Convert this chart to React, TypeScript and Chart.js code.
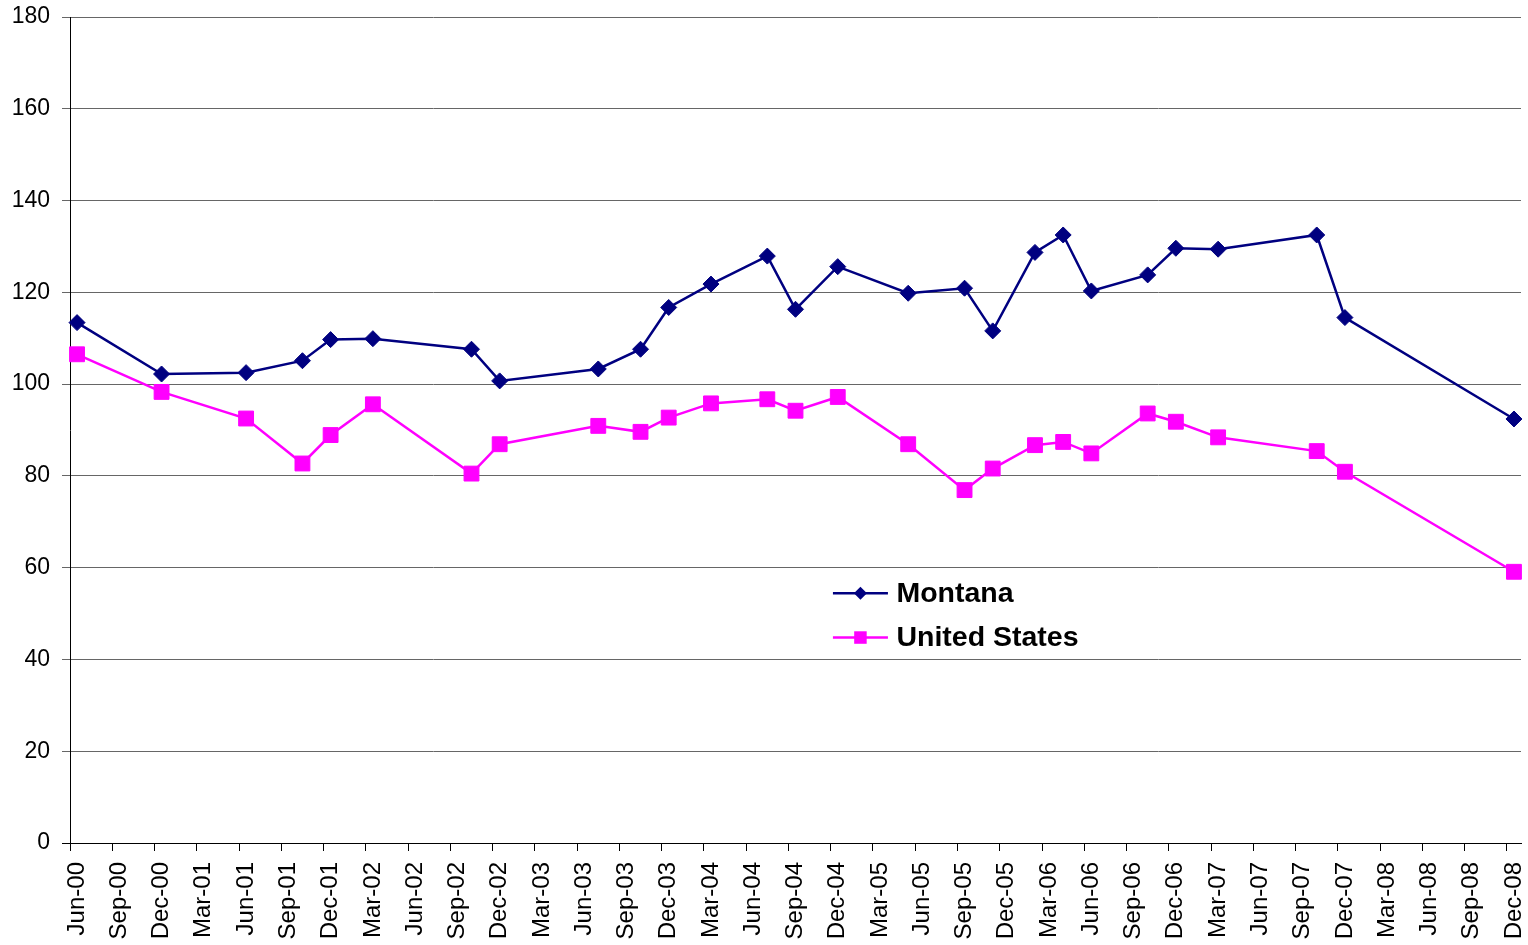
import { useEffect, useRef } from 'react';
import { Chart, registerables } from 'chart.js';

Chart.register(...registerables);

// ---- Data ----
const MONTH_NAMES = ['Jan', 'Feb', 'Mar', 'Apr', 'May', 'Jun', 'Jul', 'Aug', 'Sep', 'Oct', 'Nov', 'Dec'];
const AXIS_START_YEAR = 2000;
const AXIS_START_MONTH = 5; // Jun
const AXIS_MONTH_COUNT = 103; // Jun-00 .. Dec-08

const tickLabels = [
  'Jun-00', 'Sep-00', 'Dec-00', 'Mar-01', 'Jun-01', 'Sep-01', 'Dec-01', 'Mar-02', 'Jun-02',
  'Sep-02', 'Dec-02', 'Mar-03', 'Jun-03', 'Sep-03', 'Dec-03', 'Mar-04', 'Jun-04', 'Sep-04',
  'Dec-04', 'Mar-05', 'Jun-05', 'Sep-05', 'Dec-05', 'Mar-06', 'Jun-06', 'Sep-06', 'Dec-06',
  'Mar-07', 'Jun-07', 'Sep-07', 'Dec-07', 'Mar-08', 'Jun-08', 'Sep-08', 'Dec-08',
];

const surveyDates = [
  'Jun-00', 'Dec-00', 'Jun-01', 'Oct-01', 'Dec-01', 'Mar-02', 'Oct-02', 'Dec-02', 'Jul-03',
  'Oct-03', 'Dec-03', 'Mar-04', 'Jul-04', 'Sep-04', 'Dec-04', 'May-05', 'Sep-05', 'Nov-05',
  'Feb-06', 'Apr-06', 'Jun-06', 'Oct-06', 'Dec-06', 'Mar-07', 'Oct-07', 'Dec-07', 'Dec-08',
];

const montana = [
  113.4, 102.2, 102.5, 105.1, 109.7, 109.9, 107.6, 100.7, 103.3,
  107.6, 116.7, 121.8, 127.9, 116.3, 125.6, 119.8, 120.9, 111.6,
  128.7, 132.5, 120.3, 123.8, 129.6, 129.4, 132.5, 114.5, 92.4,
];

const unitedStates = [
  106.5, 98.3, 92.5, 82.7, 88.9, 95.6, 80.5, 86.9, 90.9,
  89.6, 92.7, 95.8, 96.7, 94.2, 97.2, 86.9, 76.9, 81.6,
  86.7, 87.4, 84.9, 93.6, 91.8, 88.4, 85.4, 80.9, 59.1,
];

const seriesNames = ['Montana', 'United States'];

// Monthly category slots for the date axis
const allMonths: string[] = [];
for (let i = 0; i < AXIS_MONTH_COUNT; i++) {
  const m = (AXIS_START_MONTH + i) % 12;
  const y = AXIS_START_YEAR + Math.floor((AXIS_START_MONTH + i) / 12);
  allMonths.push(`${MONTH_NAMES[m]}-${String(y % 100).padStart(2, '0')}`);
}

const FONT = 'Arial, "Liberation Sans", Helvetica, sans-serif';

const legendPlugin = {
  id: 'insideLegend',
  afterDraw(chart: any) {
    const { ctx, chartArea } = chart;
    const x0 = chartArea.left + chartArea.width * 0.5258;
    const y0 = chartArea.top + chartArea.height * 0.6975;
    chart.data.datasets.forEach((ds: any, i: number) => {
      const y = y0 + i * 44.4;
      ctx.save();
      ctx.strokeStyle = ds.borderColor;
      ctx.lineWidth = ds.borderWidth;
      ctx.beginPath();
      ctx.moveTo(x0, y);
      ctx.lineTo(x0 + 55, y);
      ctx.stroke();
      ctx.fillStyle = ds.backgroundColor;
      const cx = x0 + 27.5;
      if (ds.pointStyle === 'rectRot') {
        const r = 6.5;
        ctx.beginPath();
        ctx.moveTo(cx, y - r);
        ctx.lineTo(cx + r, y);
        ctx.lineTo(cx, y + r);
        ctx.lineTo(cx - r, y);
        ctx.closePath();
        ctx.fill();
      } else {
        const s = 12.5;
        ctx.fillRect(cx - s / 2, y - s / 2, s, s);
      }
      ctx.fillStyle = '#000';
      ctx.font = `bold 28.5px ${FONT}`;
      ctx.textBaseline = 'middle';
      ctx.textAlign = 'left';
      ctx.fillText(ds.label, x0 + 63.5, y + 1);
      ctx.restore();
    });
  },
};

export default function App() {
  const canvasRef = useRef<HTMLCanvasElement | null>(null);

  useEffect(() => {
    if (!canvasRef.current) return;
    const chart = new Chart(canvasRef.current, {
      type: 'line',
      data: {
        labels: allMonths,
        datasets: [
          {
            label: seriesNames[0],
            data: surveyDates.map((d, i) => ({ x: d, y: montana[i] })),
            borderColor: '#000080',
            backgroundColor: '#000080',
            borderWidth: 2.5,
            pointStyle: 'rectRot',
            pointRadius: 8,
            pointBorderWidth: 1,
            tension: 0,
            clip: false,
          },
          {
            label: seriesNames[1],
            data: surveyDates.map((d, i) => ({ x: d, y: unitedStates[i] })),
            borderColor: '#FF00FF',
            backgroundColor: '#FF00FF',
            borderWidth: 2.5,
            pointStyle: 'rect',
            pointRadius: 10.5,
            pointBorderWidth: 1,
            tension: 0,
            clip: false,
          },
        ],
      } as any,
      options: {
        animation: false,
        responsive: true,
        maintainAspectRatio: false,
        layout: { autoPadding: false, padding: { top: 17, right: 7, left: 0, bottom: 0 } },
        plugins: {
          legend: { display: false },
          tooltip: { enabled: false },
        },
        scales: {
          x: {
            type: 'category',
            offset: true,
            grid: {
              offset: true,
              drawOnChartArea: false,
              drawTicks: true,
              tickLength: 8,
              color: (ctx: any) =>
                ctx.index !== undefined && tickLabels.includes(allMonths[ctx.index]) ? '#000' : 'rgba(0,0,0,0)',
            },
            border: { color: '#000', width: 1 },
            ticks: {
              autoSkip: false,
              maxRotation: 90,
              minRotation: 90,
              padding: 11,
              color: '#000',
              font: { family: FONT, size: 24 },
              callback: (_v: any, i: number) => (tickLabels.includes(allMonths[i]) ? allMonths[i] : ''),
            },
            afterFit: (s: any) => {
              s.height = 102;
              s.paddingLeft = 0;
              s.paddingRight = 0;
            },
          },
          y: {
            min: 0,
            max: 180,
            grid: {
              color: (ctx: any) => (ctx.tick && ctx.tick.value === 0 ? '#000' : '#666'),
              tickLength: 8,
            },
            border: { color: '#000', width: 1 },
            ticks: {
              stepSize: 20,
              padding: 12,
              color: '#000',
              font: { family: FONT, size: 23 },
            },
            afterFit: (s: any) => {
              s.width = 70;
              s.paddingTop = 0;
              s.paddingBottom = 0;
            },
          },
        },
      } as any,
      plugins: [legendPlugin],
    });
    return () => chart.destroy();
  }, []);

  return (
    <div style={{ position: 'fixed', left: 0, top: 0, width: 1528, height: 945, background: '#fff' }}>
      <canvas ref={canvasRef} />
    </div>
  );
}
